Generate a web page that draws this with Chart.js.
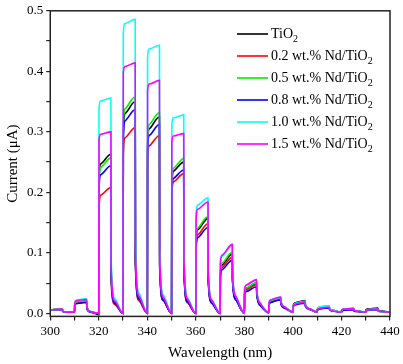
<!DOCTYPE html>
<html>
<head>
<meta charset="utf-8">
<script src="https://cdn.jsdelivr.net/npm/chart.js@4.4.1/dist/chart.umd.min.js"></script>
<style>
  html, body { margin: 0; padding: 0; background: #fff; }
  #wrap { width: 403px; height: 364px; }
</style>
</head>
<body>
<div id="wrap"><canvas id="chart"></canvas></div>
<script>
// light switched on at each start, off 5 nm later
const pulseStarts = [300, 310, 320, 330, 340, 350, 360, 370, 380, 390, 400, 410, 420, 430];
// sample points inside one pulse: start, jump, knee, end of light, drop, tail
const pulseOffsets = [0, 0.1, 0.8, 5, 5.1, 6.5];
const wavelengths = pulseStarts.flatMap(s => pulseOffsets.map(o => s + o)).concat([440]);

const seriesNames = ['TiO2', '0.2 wt.% Nd/TiO2', '0.5 wt.% Nd/TiO2', '0.8 wt.% Nd/TiO2', '1.0 wt.% Nd/TiO2', '1.5 wt.% Nd/TiO2'];
const seriesColors = ['#000000', '#ff0000', '#00ee00', '#0000ff', '#00ffff', '#ff00ff'];

const tio2 = [
  0.004, 0.005, 0.006, 0.007, 0.004, 0.002,
  0.002, 0.014, 0.017, 0.019, 0.009, 0.003,
  -0.002, 0.222, 0.247, 0.263, 0.066, 0.018,
  0.000, 0.297, 0.330, 0.350, 0.088, 0.025,
  0.000, 0.275, 0.305, 0.325, 0.081, 0.023,
  0.000, 0.210, 0.235, 0.250, 0.075, 0.020,
  0.000, 0.118, 0.138, 0.157, 0.060, 0.019,
  0.000, 0.067, 0.080, 0.098, 0.059, 0.025,
  0.000, 0.034, 0.041, 0.050, 0.035, 0.015,
  0.001, 0.014, 0.019, 0.024, 0.017, 0.010,
  0.002, 0.013, 0.017, 0.021, 0.015, 0.008,
  0.002, 0.007, 0.009, 0.011, 0.008, 0.005,
  0.002, 0.005, 0.007, 0.008, 0.006, 0.004,
  0.002, 0.006, 0.007, 0.009, 0.006, 0.004,
  0.002
];
const nd02 = [
  0.004, 0.005, 0.006, 0.007, 0.004, 0.002,
  0.002, 0.015, 0.018, 0.020, 0.009, 0.003,
  0.000, 0.175, 0.195, 0.208, 0.052, 0.015,
  0.000, 0.262, 0.290, 0.307, 0.077, 0.021,
  0.000, 0.250, 0.277, 0.294, 0.074, 0.021,
  0.000, 0.194, 0.217, 0.231, 0.069, 0.018,
  0.000, 0.111, 0.130, 0.148, 0.056, 0.018,
  0.000, 0.063, 0.076, 0.093, 0.056, 0.023,
  0.000, 0.032, 0.039, 0.047, 0.033, 0.014,
  0.001, 0.014, 0.018, 0.023, 0.016, 0.009,
  0.002, 0.011, 0.015, 0.019, 0.013, 0.008,
  0.002, 0.006, 0.008, 0.010, 0.007, 0.004,
  0.002, 0.004, 0.006, 0.007, 0.005, 0.003,
  0.002, 0.004, 0.006, 0.007, 0.005, 0.003,
  0.002
];
const nd05 = [
  0.004, 0.005, 0.006, 0.007, 0.004, 0.002,
  0.002, 0.016, 0.019, 0.021, 0.010, 0.003,
  0.000, 0.216, 0.241, 0.257, 0.064, 0.018,
  0.000, 0.304, 0.338, 0.358, 0.090, 0.025,
  0.000, 0.280, 0.312, 0.332, 0.083, 0.023,
  0.000, 0.215, 0.240, 0.256, 0.077, 0.020,
  0.000, 0.120, 0.141, 0.160, 0.061, 0.019,
  0.000, 0.069, 0.083, 0.101, 0.061, 0.025,
  0.000, 0.035, 0.042, 0.051, 0.036, 0.015,
  0.001, 0.015, 0.020, 0.025, 0.018, 0.010,
  0.002, 0.012, 0.016, 0.020, 0.014, 0.008,
  0.002, 0.007, 0.010, 0.012, 0.008, 0.005,
  0.002, 0.005, 0.007, 0.008, 0.006, 0.004,
  0.002, 0.004, 0.006, 0.007, 0.005, 0.003,
  0.002
];
const nd08 = [
  0.004, 0.005, 0.006, 0.006, 0.003, 0.002,
  0.002, 0.013, 0.016, 0.018, 0.008, 0.002,
  0.000, 0.205, 0.229, 0.244, 0.061, 0.017,
  0.000, 0.286, 0.318, 0.337, 0.084, 0.024,
  0.000, 0.264, 0.294, 0.312, 0.078, 0.022,
  0.000, 0.199, 0.223, 0.237, 0.071, 0.019,
  0.000, 0.107, 0.125, 0.142, 0.054, 0.017,
  0.000, 0.060, 0.072, 0.088, 0.053, 0.022,
  0.000, 0.030, 0.036, 0.044, 0.031, 0.013,
  0.001, 0.013, 0.018, 0.022, 0.015, 0.009,
  0.002, 0.010, 0.014, 0.017, 0.012, 0.007,
  0.002, 0.005, 0.007, 0.009, 0.006, 0.004,
  0.002, 0.004, 0.005, 0.006, 0.004, 0.003,
  0.002, 0.004, 0.005, 0.006, 0.004, 0.003,
  0.002
];
const nd10 = [
  0.004, 0.005, 0.006, 0.007, 0.004, 0.002,
  0.002, 0.018, 0.022, 0.024, 0.011, 0.003,
  0.000, 0.338, 0.351, 0.356, 0.089, 0.025,
  0.000, 0.462, 0.479, 0.486, 0.122, 0.034,
  0.000, 0.421, 0.437, 0.443, 0.111, 0.031,
  0.000, 0.312, 0.323, 0.328, 0.098, 0.026,
  0.000, 0.162, 0.179, 0.191, 0.073, 0.023,
  0.000, 0.081, 0.094, 0.112, 0.067, 0.028,
  0.000, 0.039, 0.046, 0.055, 0.039, 0.017,
  0.001, 0.017, 0.022, 0.027, 0.019, 0.011,
  0.002, 0.012, 0.016, 0.020, 0.014, 0.008,
  0.002, 0.007, 0.010, 0.012, 0.008, 0.005,
  0.002, 0.005, 0.007, 0.008, 0.006, 0.004,
  0.002, 0.004, 0.006, 0.007, 0.005, 0.003,
  0.002
];
const nd15 = [
  0.004, 0.005, 0.006, 0.007, 0.004, 0.002,
  0.002, 0.017, 0.021, 0.023, 0.011, 0.003,
  0.000, 0.287, 0.296, 0.300, 0.075, 0.021,
  0.000, 0.397, 0.408, 0.414, 0.104, 0.029,
  0.000, 0.368, 0.379, 0.385, 0.096, 0.027,
  0.000, 0.283, 0.293, 0.297, 0.089, 0.024,
  0.000, 0.156, 0.172, 0.184, 0.070, 0.022,
  0.000, 0.082, 0.096, 0.114, 0.068, 0.028,
  0.000, 0.040, 0.047, 0.056, 0.039, 0.017,
  0.001, 0.017, 0.022, 0.027, 0.019, 0.011,
  0.002, 0.011, 0.015, 0.019, 0.013, 0.008,
  0.002, 0.006, 0.008, 0.010, 0.007, 0.004,
  0.002, 0.005, 0.007, 0.008, 0.006, 0.004,
  0.002, 0.004, 0.006, 0.007, 0.005, 0.003,
  0.002
];
const allSeries = [tio2, nd02, nd05, nd08, nd10, nd15];

const xTicks = [300, 310, 320, 330, 340, 350, 360, 370, 380, 390, 400, 410, 420, 430, 440];
const yTicks = [0, 0.05, 0.1, 0.15, 0.2, 0.25, 0.3, 0.35, 0.4, 0.45, 0.5];

const serif = '"Liberation Serif", "Times New Roman", serif';

// box round the plot
const frame = {
  id: 'frame',
  afterDraw(chart) {
    const { ctx, chartArea: a } = chart;
    ctx.save();
    ctx.strokeStyle = '#222';
    ctx.lineWidth = 1.5;
    ctx.strokeRect(a.left, a.top, a.right - a.left, a.bottom - a.top);
    ctx.restore();
  }
};

// legend with subscript 2
const subLegend = {
  id: 'subLegend',
  afterDraw(chart) {
    const ctx = chart.ctx;
    ctx.save();
    ctx.textBaseline = 'alphabetic';
    seriesNames.forEach((name, i) => {
      const y = 34 + i * 22;
      ctx.strokeStyle = seriesColors[i];
      ctx.lineWidth = 1.6;
      ctx.beginPath();
      ctx.moveTo(237, y);
      ctx.lineTo(268, y);
      ctx.stroke();
      const main = name.slice(0, -1);
      ctx.fillStyle = '#000';
      ctx.font = '14px ' + serif;
      ctx.fillText(main, 271, y + 4);
      const w = ctx.measureText(main).width;
      ctx.font = '10px ' + serif;
      ctx.fillText('2', 271 + w, y + 8);
    });
    ctx.restore();
  }
};

new Chart(document.getElementById('chart'), {
  type: 'line',
  data: {
    datasets: allSeries.map((vals, i) => ({
      label: seriesNames[i],
      data: vals.map((v, k) => ({ x: wavelengths[k], y: v })),
      borderColor: seriesColors[i],
      borderWidth: 1.6,
      pointRadius: 0,
      cubicInterpolationMode: 'monotone',
      fill: false,
      order: 5 - i
    }))
  },
  options: {
    animation: false,
    responsive: true,
    maintainAspectRatio: false,
    layout: { padding: { left: 4, right: 13, top: 3, bottom: 2 } },
    plugins: {
      legend: { display: false },
      tooltip: { enabled: false }
    },
    scales: {
      x: {
        type: 'linear',
        min: 300,
        max: 440,
        afterBuildTicks: axis => { axis.ticks = xTicks.map(v => ({ value: v })); },
        grid: { drawOnChartArea: false, drawTicks: true, tickLength: 4, color: '#222', lineWidth: 1.2 },
        border: { display: false },
        ticks: {
          color: '#000',
          font: { family: serif, size: 13 },
          padding: 3,
          maxRotation: 0,
          autoSkip: false,
          callback: v => (v % 20 === 0 ? String(v) : '')
        },
        title: {
          display: true,
          text: 'Wavelength (nm)',
          color: '#000',
          font: { family: serif, size: 15 },
          padding: { top: 2, bottom: 0 }
        }
      },
      y: {
        type: 'linear',
        min: -0.005,
        max: 0.5,
        afterBuildTicks: axis => { axis.ticks = yTicks.map(v => ({ value: v })); },
        grid: { drawOnChartArea: false, drawTicks: true, tickLength: 4, color: '#222', lineWidth: 1.2 },
        border: { display: false },
        ticks: {
          color: '#000',
          font: { family: serif, size: 13 },
          padding: 3,
          autoSkip: false,
          callback: v => (Math.round(v * 100) % 10 === 0 ? v.toFixed(1) : '')
        },
        title: {
          display: true,
          text: 'Current (μA)',
          color: '#000',
          font: { family: serif, size: 15 },
          padding: { top: 0, bottom: 2 }
        }
      }
    }
  },
  plugins: [frame, subLegend]
});
</script>
</body>
</html>
